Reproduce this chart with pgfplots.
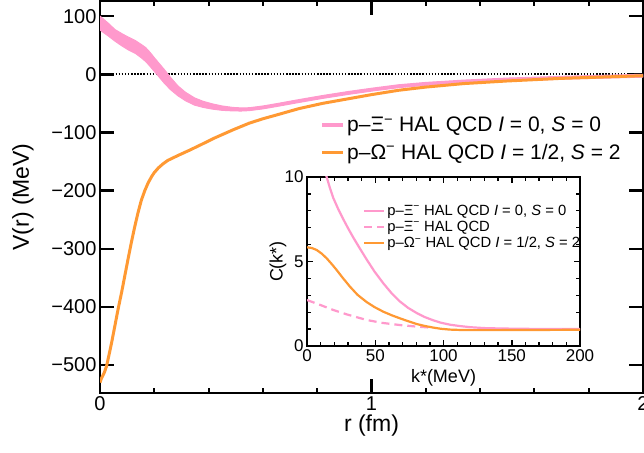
\documentclass[border=0pt]{standalone}
\usepackage{fontspec}
\setmainfont{Liberation Sans}
\usepackage{pgfplots}
\pgfplotsset{compat=1.18}
\definecolor{xipink}{HTML}{FF99CC}
\definecolor{omorange}{HTML}{FF9933}
\newcommand{\fsz}[1]{\fontsize{#1}{#1}\selectfont}

\begin{document}
\begin{tikzpicture}
\path[use as bounding box] (-100pt,-59pt) rectangle (544pt,393pt);
% main panel: potentials
\begin{axis}[
  at={(0pt,0pt)}, anchor=south west,
  width=543pt, height=392pt, scale only axis,
  xmin=0, xmax=2, ymin=-548, ymax=126,
  xtick={0,1,2}, xticklabels={0,1,2}, minor x tick num=4,
  ytick={-500,-400,...,100},
  yticklabels={−500,−400,−300,−200,−100,0,100},
  tick align=inside,
  major tick length=14pt, minor tick length=5pt,
  major tick style={line width=2.5pt, black},
  minor tick style={line width=2pt, black},
  axis line style={line width=2.5pt},
  tick label style={font=\fsz{20}},
  xlabel={r (fm)}, ylabel={V(r) (MeV)},
  xlabel style={at={(axis description cs:0.5,0)}, yshift=-33pt, anchor=center, font=\fsz{23}},
  ylabel style={at={(axis description cs:-0.142,0.5)}, anchor=center, font=\fsz{23}},
  legend style={at={(axis description cs:0.3996,0.715)}, anchor=north west, draw=none, fill=none,
    font=\fsz{21}, row sep=7pt},
  legend cell align=left,
  legend image code/.code={\draw[#1] (0pt,0pt) -- (21pt,0pt);},
]
\addplot[black, line width=1.8pt, dash pattern=on 1.5pt off 1.6pt, forget plot] coordinates {(0,0) (2,0)};

% p-Xi band: upper edge, then lower edge backwards
\addplot[fill=xipink, draw=xipink, line width=1pt, forget plot] coordinates {
 (0,100) (0.03,88) (0.055,77) (0.08,70) (0.104,64) (0.13,58) (0.153,51) (0.168,46) (0.18,40)
 (0.19,34.5) (0.201,28) (0.22,17.5) (0.238,7.5) (0.26,-5.5) (0.287,-20) (0.315,-31) (0.348,-40.5)
 (0.38,-46.5) (0.415,-51) (0.45,-54.5) (0.49,-57) (0.52,-57.8) (0.55,-57.5) (0.6,-54.5)
 (0.65,-50.5) (0.733,-43.5) (0.82,-36.5) (0.916,-29.5) (1.0,-24) (1.1,-18) (1.2,-14)
 (1.34,-10) (1.5,-6.5) (1.7,-3.5) (2.0,0)
 (2.0,-5) (1.7,-8.5) (1.5,-11.5) (1.34,-15) (1.2,-19) (1.1,-23) (1.0,-29) (0.916,-34.5)
 (0.82,-41.5) (0.733,-48.5) (0.65,-55.5) (0.6,-59.5) (0.55,-62.5) (0.52,-63.2) (0.49,-63)
 (0.45,-62) (0.415,-60) (0.38,-57) (0.348,-53) (0.315,-45.5) (0.287,-37) (0.26,-26.5)
 (0.238,-16) (0.22,-6) (0.201,4.5) (0.19,10.5) (0.18,16) (0.168,22) (0.153,28) (0.13,36)
 (0.104,42) (0.08,49) (0.055,57) (0.03,66) (0,76)};
\addlegendimage{xipink, line width=4pt}
\addlegendentry{p–Ξ\textsuperscript{−} HAL QCD \textit{I} = 0, \textit{S} = 0}

% p-Omega
\addplot[omorange, line width=3pt, line join=round] coordinates {
 (0,-530) (0.006,-522) (0.015,-514) (0.024,-502) (0.033,-483) (0.043,-461) (0.055,-432)
 (0.067,-403) (0.08,-374) (0.092,-345) (0.104,-316) (0.116,-288) (0.128,-262) (0.14,-238)
 (0.152,-217) (0.165,-200) (0.177,-187) (0.19,-176) (0.2,-169) (0.215,-161) (0.232,-154)
 (0.25,-148) (0.27,-143.5) (0.287,-139.7) (0.33,-130.5) (0.37,-121.5) (0.42,-110) (0.49,-95.5)
 (0.55,-84) (0.6,-76.5) (0.65,-70) (0.733,-59) (0.82,-50) (0.916,-42) (1.0,-35) (1.1,-27.5)
 (1.2,-22) (1.34,-16) (1.5,-11.5) (1.7,-7) (2.0,-2.5)};
\addlegendentry{p–Ω\textsuperscript{−} HAL QCD \textit{I} = 1/2, \textit{S} = 2}
\end{axis}

% inset: correlation functions
\begin{axis}[
  at={(207pt,47pt)}, anchor=south west,
  width=273pt, height=169pt, scale only axis,
  axis background/.style={fill=white},
  xmin=0, xmax=200, ymin=0, ymax=10,
  xtick={0,50,...,200}, xticklabels={0,50,100,150,200}, minor x tick num=4,
  ytick={0,5,10}, yticklabels={0,5,10}, minor y tick num=4,
  tick align=inside,
  major tick length=6pt, minor tick length=4pt,
  major tick style={line width=1.5pt, black},
  minor tick style={line width=1.3pt, black},
  axis line style={line width=1.8pt},
  tick label style={font=\fsz{17}},
  xlabel={k*(MeV)}, ylabel={C(k*)},
  xlabel style={at={(axis description cs:0.5,0)}, yshift=-32pt, anchor=center, font=\fsz{18}},
  ylabel style={at={(axis description cs:-0.106,0.5)}, anchor=center, font=\fsz{18}},
  legend style={at={(axis description cs:0.194,0.86)}, anchor=north west, draw=none, fill=none,
    font=\fsz{14.8}, row sep=0pt},
  legend cell align=left,
  legend image code/.code={\draw[#1] (0pt,0pt) -- (20pt,0pt);},
]
\addplot[xipink, line width=2.2pt, line join=round] coordinates {
 (12,10.65) (14.4,10.0) (16.8,9.35) (19.3,8.75) (23,8.08) (26.6,7.5) (30,6.98) (33.9,6.42)
 (38.5,5.8) (43.7,5.12) (49.5,4.4) (55.9,3.71) (62,3.12) (68,2.64) (74,2.26) (80.4,1.95)
 (86,1.72) (92.5,1.52) (98,1.38) (104.8,1.26) (112,1.18) (120,1.11) (130,1.06) (140,1.04)
 (155,1.02) (170,1.01) (200,1.0)};
\addlegendentry{p–Ξ\textsuperscript{−} HAL QCD \textit{I} = 0, \textit{S} = 0}
\addplot[xipink, line width=2.2pt, dash pattern=on 8pt off 5pt] coordinates {
 (0,2.72) (10,2.42) (19.3,2.13) (30,1.85) (43.7,1.54) (55,1.37) (68,1.24) (80,1.15) (90,1.09)};
\addlegendentry{p–Ξ\textsuperscript{−} HAL QCD}
\addplot[omorange, line width=2.2pt, line join=round] coordinates {
 (0,5.84) (3.5,5.8) (7.1,5.68) (10.7,5.47) (14.4,5.19) (18,4.86) (21.7,4.5) (26,4.05)
 (31.5,3.51) (37,3.03) (43.7,2.6) (49.5,2.3) (55.9,2.03) (62,1.82) (68,1.64) (74,1.47)
 (80.4,1.3) (86,1.19) (92.5,1.09) (98,1.02) (104.8,0.97) (112,0.95) (120,0.94) (140,0.94)
 (170,0.95) (200,0.96)};
\addlegendentry{p–Ω\textsuperscript{−} HAL QCD \textit{I} = 1/2, \textit{S} = 2}
\end{axis}
\end{tikzpicture}
\end{document}
